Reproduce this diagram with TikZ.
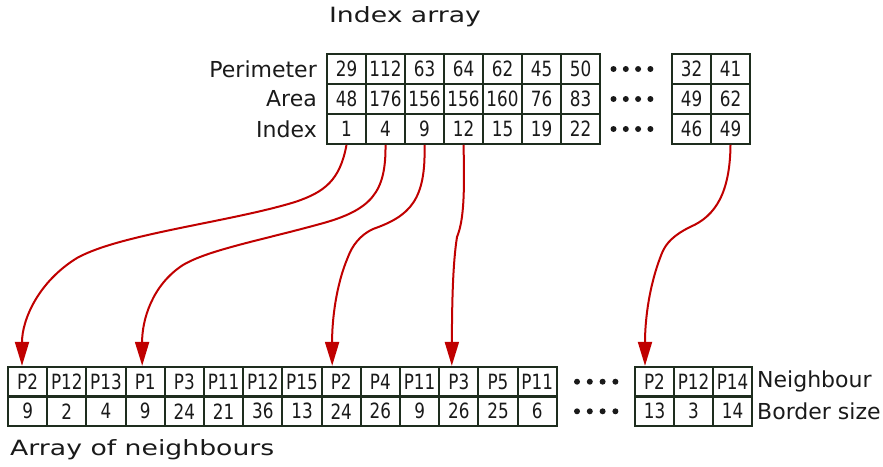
\documentclass[tikz,border=0pt]{standalone}
\usepackage{fontspec}
\setmainfont{DejaVu Sans}
\newfontfamily\cellfont[FakeStretch=0.8]{DejaVu Sans}
\newfontfamily\titlefont[FakeStretch=1.27]{DejaVu Sans}
\usetikzlibrary{arrows.meta}
\definecolor{cellborder}{HTML}{1E2D1E}
\definecolor{linkred}{HTML}{C00000}
\definecolor{ink}{HTML}{1A1A1A}
\tikzset{
  cell/.style={draw=cellborder, line width=1.7pt, minimum width=39pt, minimum height=30pt,
    inner sep=0pt, text=ink, font=\cellfont\fontsize{21}{23}\selectfont},
  rowlabel/.style={inner sep=0pt, text=ink, font=\fontsize{22}{25}\selectfont},
  caption/.style={inner sep=0pt, text=ink, font=\titlefont\fontsize{21}{24}\selectfont},
  link/.style={draw=linkred, line width=2pt, -{Triangle[length=24pt,width=14pt]}},
  dot/.style={fill=ink, draw=none}
}
\begin{document}
\begin{tikzpicture}[x=1pt,y=-1pt]
\useasboundingbox (0,0) rectangle (883,466);

% ---- index array ----
\node[caption, anchor=base] (title) at (405,22.5) {Index array};

\node[rowlabel, anchor=east] (lper) at (317,69) {Perimeter};
\node[rowlabel, anchor=east] (lare) at (317,99) {Area};
\node[rowlabel, anchor=east] (lidx) at (317,129) {Index};

\foreach \v [count=\k] in {29,112,63,64,62,45,50}
  \node[cell] (p\k) at ({346.5+39*(\k-1)},69) {\v};
\foreach \v [count=\k] in {48,176,156,156,160,76,83}
  \node[cell] (a\k) at ({346.5+39*(\k-1)},99) {\v};
\foreach \v [count=\k] in {1,4,9,12,15,19,22}
  \node[cell] (i\k) at ({346.5+39*(\k-1)},129) {\v};

\node[cell] (p8) at (691.5,69) {32};
\node[cell] (p9) at (730.5,69) {41};
\node[cell] (a8) at (691.5,99) {49};
\node[cell] (a9) at (730.5,99) {62};
\node[cell] (i8) at (691.5,129) {46};
\node[cell] (i9) at (730.5,129) {49};

\foreach \y in {69,99,129}
  \foreach \x in {613.5,625.8,638.1,650.4}
    \fill[dot] (\x,\y) circle (3pt);

% ---- array of neighbours ----
\foreach \v [count=\k] in {P2,P12,P13,P1,P3,P11,P12,P15,P2,P4,P11,P3,P5,P11}
  \node[cell] (n\k) at ({27.6+39.2*(\k-1)},381.7) {\v};
\foreach \v [count=\k] in {9,2,4,9,24,21,36,13,24,26,9,26,25,6}
  \node[cell] (b\k) at ({27.6+39.2*(\k-1)},411.3) {\v};

\node[cell] (n15) at (654.5,381.7) {P2};
\node[cell] (n16) at (693.5,381.7) {P12};
\node[cell] (n17) at (732.5,381.7) {P14};
\node[cell] (b15) at (654.5,411.3) {13};
\node[cell] (b16) at (693.5,411.3) {3};
\node[cell] (b17) at (732.5,411.3) {14};

\foreach \y in {381.7,411.3}
  \foreach \x in {577,589.8,602.6,615.4}
    \fill[dot] (\x,\y) circle (3pt);

\node[rowlabel, anchor=west] (lnb) at (757,381.7) {Neighbour};
\node[rowlabel, anchor=west] (lbs) at (757,411.3) {Border size};

\node[caption, anchor=base west] (ctitle) at (10,455) {Array of neighbours};

% ---- links from index entries to neighbour runs ----
\draw[link] (i1.south) .. controls (340,180) and (325,192) .. (295,202)
  .. controls (230,222) and (120,234) .. (77,258)
  .. controls (38,282) and (22,320) .. ([xshift=-5.6pt]n1.north);
\draw[link] (i2.south) .. controls (386,192) and (372,210) .. (320,224)
  .. controls (262,240) and (208,250) .. (183,265)
  .. controls (152,285) and (142,320) .. ([xshift=-3pt]n4.north);
\draw[link] (i3.south) .. controls (426,200) and (410,216) .. (373,229)
  .. controls (360,235) and (352,246) .. (348,257)
  .. controls (336,285) and (332,320) .. ([xshift=-9pt]n9.north);
\draw[link] (i4.south) .. controls (465,200) and (463,222) .. (457,237)
  .. controls (453,262) and (452,300) .. ([xshift=-7pt]n12.north);
\draw[link] (i9.south) .. controls (730,192) and (716,216) .. (690,227)
  .. controls (674,235) and (666,243) .. (662,253)
  .. controls (649,285) and (645,320) .. ([xshift=-9.5pt]n15.north);
\end{tikzpicture}
\end{document}
